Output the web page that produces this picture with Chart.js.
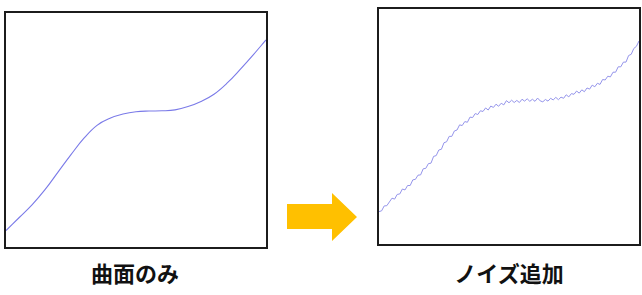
<!DOCTYPE html>
<html>
<head>
<meta charset="utf-8">
<script src="https://cdn.jsdelivr.net/npm/chart.js@4"></script>
<style>
  body { margin: 0; width: 642px; height: 295px; background: #fff; position: relative; overflow: hidden; }
  .panel { position: absolute; border: 2px solid #1c1c1c; box-sizing: border-box; background: #fff; }
  .panel canvas { display: block; }
  .label { position: absolute; top: 256px; width: 200px; text-align: center;
           font-family: "Noto Sans CJK JP", sans-serif; font-weight: bold; font-size: 22px; color: #111; }
  #arrow { position: absolute; left: 287px; top: 193px; width: 70px; height: 48px; background: #FFC000;
           clip-path: polygon(0 11px, 45px 11px, 45px 0, 70px 24px, 45px 48px, 45px 36px, 0 36px); }
</style>
</head>
<body>
<div class="panel" style="left:4px; top:11px; width:264px; height:238px;"><canvas id="smoothChart"></canvas></div>
<div class="panel" style="left:377px; top:7px; width:264px; height:239px;"><canvas id="noiseChart"></canvas></div>
<div id="arrow"></div>
<div class="label" style="left:35px;">曲面のみ</div>
<div class="label" style="left:409px;">ノイズ追加</div>

<script>
// curve only (left panel), sampled every 5 units of x
const smoothX = [0, 5, 10, 15, 20, 25, 30, 35, 40, 45, 50, 55, 60, 65, 70, 75, 80, 85, 90, 95, 100];
const smoothY = [7, 12.5, 18, 24.5, 32, 39.5, 46.5, 52, 55, 56.8, 57.8, 58.1, 58.2, 58.6, 60, 62.2, 65.3, 70, 75.8, 82, 88.5];

// with noise added (right panel), read every 1 unit of x
const noiseY = [
    13.8, 14.1, 16.2, 16.3, 17.9, 19.5, 19.1, 21.1, 21.3, 23.4,
    23.0, 24.9, 24.9, 27.3, 27.5, 29.3, 29.4, 32.0, 32.2, 34.2,
    34.4, 37.3, 37.6, 40.0, 40.3, 43.1, 43.5, 45.8, 45.8, 48.1,
    48.5, 50.7, 50.4, 52.1, 51.8, 54.0, 53.8, 55.5, 55.1, 56.7,
    56.4, 57.9, 57.0, 58.7, 58.1, 59.5, 58.6, 59.9, 59.2, 61.0,
    60.1, 61.2, 60.2, 61.1, 60.2, 61.6, 60.8, 61.8, 60.7, 61.6,
    60.7, 62.1, 60.9, 60.5, 61.5, 60.8, 62.0, 61.3, 62.4, 61.4,
    62.5, 62.0, 63.5, 62.6, 64.0, 63.7, 65.1, 64.2, 65.6, 64.8,
    66.4, 65.9, 67.6, 66.9, 68.4, 67.9, 70.0, 69.8, 71.4, 71.1,
    73.1, 73.1, 75.4, 75.4, 77.4, 77.4, 80.2, 80.7, 83.2, 84.1,
    86.4
];
const noiseX = noiseY.map((_, i) => i);

function makePanel(canvasId, xs, ys, color, width, tension) {
    const points = xs.map((x, i) => ({ x: x, y: ys[i] }));
    return new Chart(document.getElementById(canvasId), {
        type: 'line',
        data: {
            datasets: [{
                data: points,
                borderColor: color,
                borderWidth: width,
                pointRadius: 0,
                fill: false,
                tension: tension
            }]
        },
        options: {
            responsive: true,
            maintainAspectRatio: false,
            animation: false,
            layout: { padding: 0 },
            plugins: { legend: { display: false }, tooltip: { enabled: false } },
            scales: {
                x: { type: 'linear', min: 0, max: 100, display: false },
                y: { type: 'linear', min: 0, max: 100, display: false }
            }
        }
    });
}

makePanel('smoothChart', smoothX, smoothY, '#7a7ae8', 1.1, 0.4);
makePanel('noiseChart', noiseX, noiseY, '#9494ea', 1, 0);
</script>
</body>
</html>
